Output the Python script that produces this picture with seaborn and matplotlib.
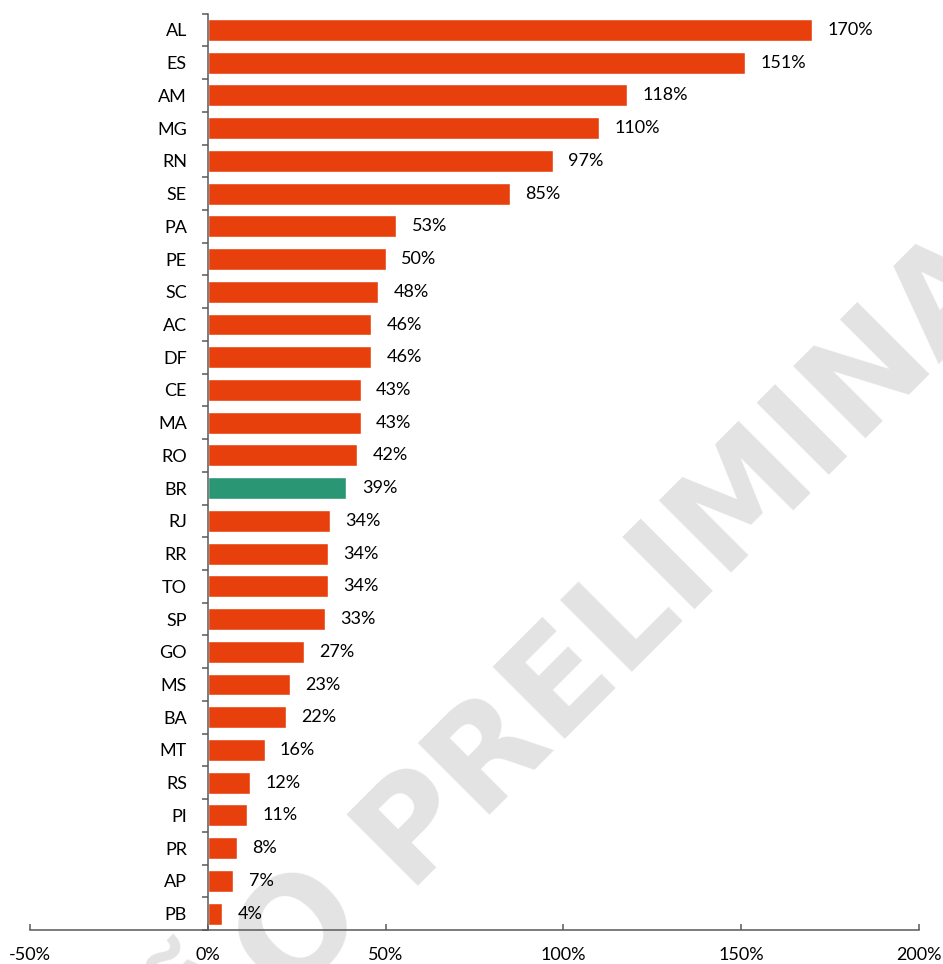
import numpy as np
import pandas as pd
import matplotlib
matplotlib.use("Agg")
import matplotlib.pyplot as plt
import seaborn as sns
from matplotlib.ticker import FixedLocator, FuncFormatter

states = ["AL", "ES", "AM", "MG", "RN", "SE", "PA", "PE", "SC", "AC",
          "DF", "CE", "MA", "RO", "BR", "RJ", "RR", "TO", "SP", "GO",
          "MS", "BA", "MT", "RS", "PI", "PR", "AP", "PB"]
growth = [170, 151, 118, 110, 97, 85, 53, 50, 48, 46,
          46, 43, 43, 42, 39, 34.4, 33.8, 33.7, 33, 27,
          23, 22, 16, 12, 11, 8.2, 7.2, 4.1]
labels = ["170%", "151%", "118%", "110%", "97%", "85%", "53%", "50%", "48%", "46%",
          "46%", "43%", "43%", "42%", "39%", "34%", "34%", "34%", "33%", "27%",
          "23%", "22%", "16%", "12%", "11%", "8%", "7%", "4%"]
x_ticks = [-50, 0, 50, 100, 150, 200]

orange = "#E8400C"
green = "#2A9674"
axis_grey = "#595959"

sns.set_style("white")
plt.rcParams["font.family"] = ["Lato", "DejaVu Sans"]

df = pd.DataFrame({"uf": states, "growth": growth})
palette = {s: (green if s == "BR" else orange) for s in states}

fig = plt.figure(figsize=(9.43, 9.64), dpi=100)
ax = fig.add_axes([30 / 943, 34 / 964, 889 / 943, 916.4 / 964])
ax.set_facecolor("none")

sns.barplot(data=df, x="growth", y="uf", hue="uf", palette=palette,
            legend=False, width=0.67, saturation=1, ax=ax, zorder=2)

for cont, lab in zip(ax.containers, labels):
    ax.bar_label(cont, labels=[lab], padding=11, fontsize=13, color="black")

ax.set_xlim(-50, 200)
ax.set_ylim(len(states) - 0.5, -0.5)
ax.set_xticks(x_ticks)
ax.xaxis.set_major_formatter(FuncFormatter(lambda v, _: f"{v:.0f}%"))
ax.set_xlabel("")
ax.set_ylabel("")

for side in ["top", "right"]:
    ax.spines[side].set_visible(False)
ax.spines["left"].set_position(("data", 0))
for side in ["left", "bottom"]:
    ax.spines[side].set_color(axis_grey)
    ax.spines[side].set_linewidth(1.1)

# category ticks sit between bars, like the spreadsheet original
ax.yaxis.set_minor_locator(FixedLocator(np.arange(-0.5, len(states), 1.0)))
ax.tick_params(axis="y", which="major", length=0, pad=15, labelsize=13, labelcolor="black")
ax.tick_params(axis="y", which="minor", left=True, length=4, width=1.1, color=axis_grey)
ax.tick_params(axis="x", which="major", bottom=True, direction="in", length=4, width=1.1,
               color=axis_grey, pad=12, labelsize=13, labelcolor="black")

# watermark
def px(x, y):
    return x / 943, 1 - y / 964

wm = dict(fontsize=100, fontweight="bold", color="#E3E3E3", rotation=45,
          rotation_mode="anchor", va="baseline", zorder=-1,
          family=["DejaVu Sans"])
fig.text(*px(405, 886), "PRELIMINAR", ha="left", **wm)
fig.text(*px(371, 920), "VERSÃO", ha="right", **wm)

fig.savefig("out.png", dpi=100)
